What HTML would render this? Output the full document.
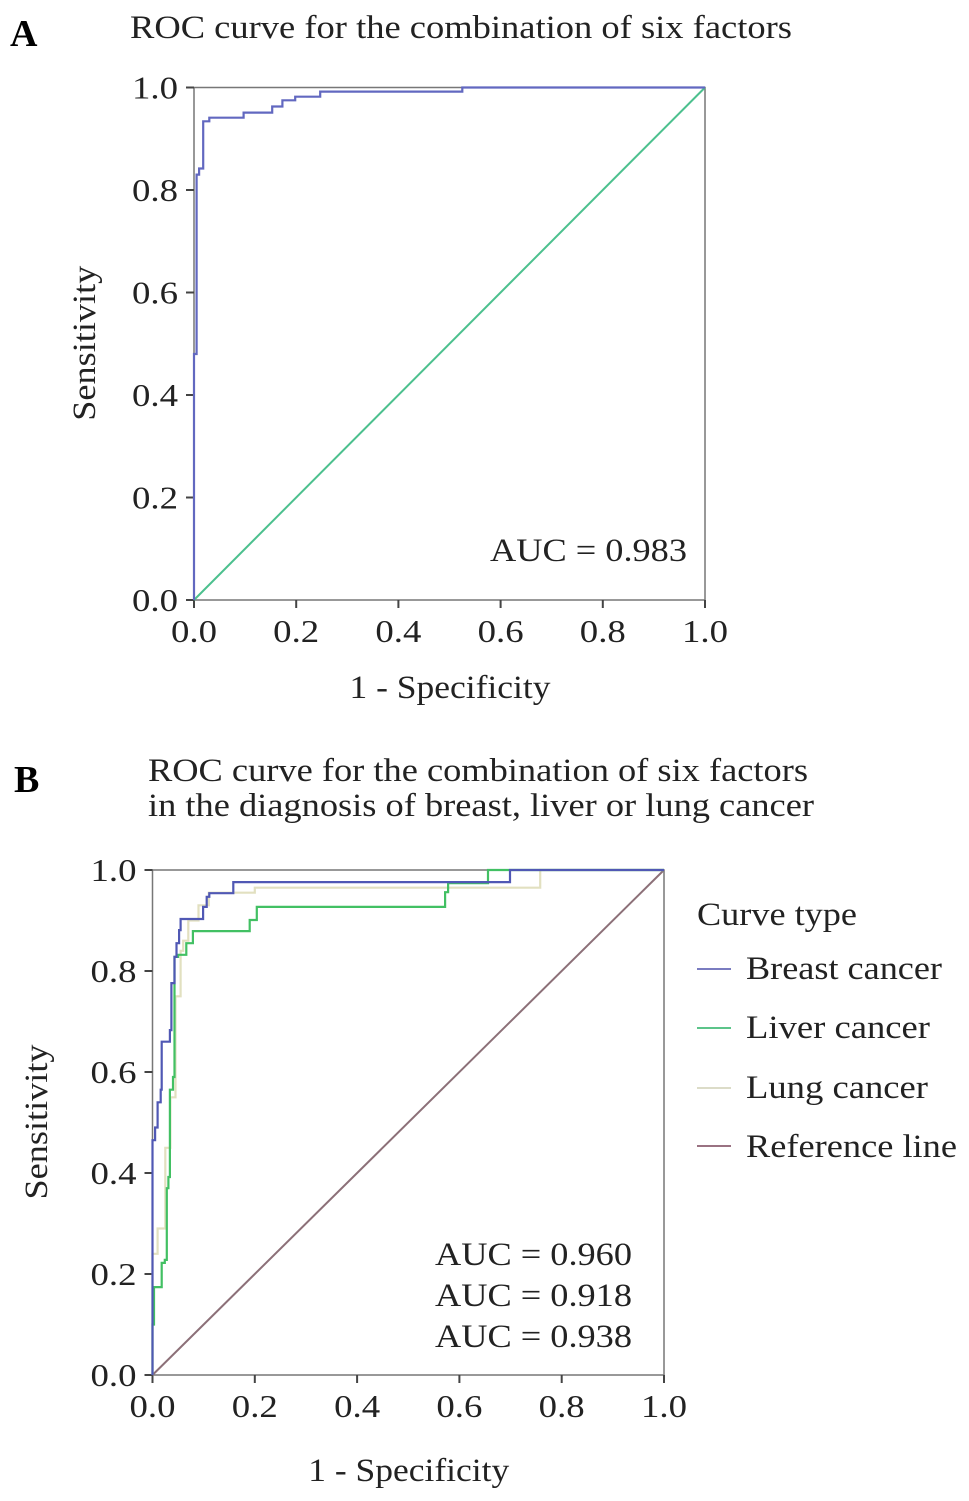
<!DOCTYPE html>
<html><head><meta charset="utf-8"><style>
html,body{margin:0;padding:0;background:#fff;}
svg{display:block;font-family:"Liberation Serif",serif;}
</style></head><body>
<svg id="root" width="969" height="1501" viewBox="0 0 969 1501" xmlns="http://www.w3.org/2000/svg">
<text x="10" y="46" font-size="38" font-weight="bold">A</text>
<text x="130" y="38" font-size="33" fill="#222" textLength="662" lengthAdjust="spacingAndGlyphs">ROC curve for the combination of six factors</text>
<g id="chartA"></g>
<text x="14" y="792" font-size="38" font-weight="bold">B</text>
<text x="148" y="781" font-size="33" fill="#222" textLength="660" lengthAdjust="spacingAndGlyphs">ROC curve for the combination of six factors</text>
<text x="148" y="816" font-size="33" fill="#222" textLength="666" lengthAdjust="spacingAndGlyphs">in the diagnosis of breast, liver or lung cancer</text>
<g id="chartB"></g>
<g>
<text x="697" y="925" font-size="33" fill="#222" textLength="160" lengthAdjust="spacingAndGlyphs">Curve type</text>
<g><line x1="697" y1="969" x2="731" y2="969" stroke="#7a7cc0" stroke-width="2"/><text x="746" y="979" font-size="33" fill="#222" textLength="196" lengthAdjust="spacingAndGlyphs">Breast cancer</text></g>
<g><line x1="697" y1="1028" x2="731" y2="1028" stroke="#5cc48a" stroke-width="2"/><text x="746" y="1038" font-size="33" fill="#222" textLength="184" lengthAdjust="spacingAndGlyphs">Liver cancer</text></g>
<g><line x1="697" y1="1088" x2="731" y2="1088" stroke="#dcdcc8" stroke-width="2"/><text x="746" y="1098" font-size="33" fill="#222" textLength="182" lengthAdjust="spacingAndGlyphs">Lung cancer</text></g>
<g><line x1="697" y1="1146" x2="731" y2="1146" stroke="#9a7282" stroke-width="2"/><text x="746" y="1157" font-size="33" fill="#222" textLength="211" lengthAdjust="spacingAndGlyphs">Reference line</text></g>
</g>
</svg>
<script>
const ticks = [0, 0.2, 0.4, 0.6, 0.8, 1.0];
const tickLabels = ["0.0", "0.2", "0.4", "0.6", "0.8", "1.0"];
const aFpr = [0, 0, 0.005, 0.005, 0.01, 0.01, 0.018, 0.018, 0.03, 0.03, 0.097, 0.097, 0.153, 0.153, 0.173, 0.173, 0.198, 0.198, 0.247, 0.247, 0.525, 0.525, 1];
const aTpr = [0, 0.48, 0.48, 0.83, 0.83, 0.842, 0.842, 0.934, 0.934, 0.941, 0.941, 0.951, 0.951, 0.963, 0.963, 0.975, 0.975, 0.982, 0.982, 0.992, 0.992, 1, 1];
const breastFpr = [0, 0, 0.005, 0.005, 0.01, 0.01, 0.016, 0.016, 0.018, 0.018, 0.034, 0.034, 0.037, 0.037, 0.043, 0.043, 0.047, 0.047, 0.052, 0.052, 0.055, 0.055, 0.099, 0.099, 0.106, 0.106, 0.111, 0.111, 0.158, 0.158, 0.699, 0.699, 1];
const breastTpr = [0, 0.465, 0.465, 0.49, 0.49, 0.54, 0.54, 0.565, 0.565, 0.66, 0.66, 0.683, 0.683, 0.776, 0.776, 0.828, 0.828, 0.855, 0.855, 0.881, 0.881, 0.903, 0.903, 0.927, 0.927, 0.947, 0.947, 0.954, 0.954, 0.976, 0.976, 1, 1];
const liverFpr = [0, 0, 0.003, 0.003, 0.018, 0.018, 0.024, 0.024, 0.028, 0.028, 0.031, 0.031, 0.034, 0.034, 0.04, 0.04, 0.043, 0.043, 0.05, 0.05, 0.066, 0.066, 0.079, 0.079, 0.19, 0.19, 0.204, 0.204, 0.572, 0.572, 0.578, 0.578, 0.656, 0.656, 1];
const liverTpr = [0, 0.1, 0.1, 0.174, 0.174, 0.222, 0.222, 0.228, 0.228, 0.37, 0.37, 0.392, 0.392, 0.565, 0.565, 0.59, 0.59, 0.828, 0.828, 0.832, 0.832, 0.855, 0.855, 0.879, 0.879, 0.901, 0.901, 0.927, 0.927, 0.956, 0.956, 0.974, 0.974, 1, 1];
const lungFpr = [0, 0, 0.01, 0.01, 0.025, 0.025, 0.035, 0.035, 0.045, 0.045, 0.055, 0.055, 0.06, 0.06, 0.07, 0.07, 0.09, 0.09, 0.11, 0.11, 0.2, 0.2, 0.758, 0.758, 1];
const lungTpr = [0, 0.24, 0.24, 0.29, 0.29, 0.45, 0.45, 0.55, 0.55, 0.75, 0.75, 0.84, 0.84, 0.86, 0.86, 0.9, 0.9, 0.93, 0.93, 0.955, 0.955, 0.965, 0.965, 1, 1];
const aucA = ["AUC = 0.983"];
const aucB = ["AUC = 0.960", "AUC = 0.918", "AUC = 0.938"];

const NS = "http://www.w3.org/2000/svg";
function mk(parent, tag, attrs, txt) {
  const e = document.createElementNS(NS, tag);
  for (const k in attrs) e.setAttribute(k, attrs[k]);
  if (txt !== undefined) e.textContent = txt;
  parent.appendChild(e);
  return e;
}
function drawChart(g, L, T, R, B, series, diagColor, opt) {
  const sx = v => L + v * (R - L);
  const sy = v => B - v * (B - T);
  const fr = mk(g, "rect", {x: L, y: T, width: R - L, height: B - T, fill: "none", stroke: "#777", "stroke-width": 1.5});
  
  
  ticks.forEach((t, i) => {
    const yt = mk(g, "line", {x1: L - 8, x2: L, y1: sy(t), y2: sy(t), stroke: "#444", "stroke-width": 2});
    
    
    const xt = mk(g, "line", {x1: sx(t), x2: sx(t), y1: B, y2: B + 8, stroke: "#444", "stroke-width": 2});
    
    
    const yl = mk(g, "text", {x: L - 62, y: sy(t) + 11, "font-size": 32, fill: "#222", textLength: 46, lengthAdjust: "spacingAndGlyphs"}, tickLabels[i]);
    
    
    const xl = mk(g, "text", {x: sx(t) - 23, y: B + 42, "font-size": 32, fill: "#222", textLength: 46, lengthAdjust: "spacingAndGlyphs"}, tickLabels[i]);
    
    
  });
  const d = mk(g, "line", {x1: sx(0), y1: sy(0), x2: sx(1), y2: sy(1), stroke: diagColor, "stroke-width": 2});
  
  
  series.forEach(s => {
    const pts = s.x.map((v, i) => sx(v).toFixed(1) + "," + sy(s.y[i]).toFixed(1)).join(" ");
    const p = mk(g, "polyline", {points: pts, fill: "none", stroke: s.color, "stroke-width": 2.2});
    
    
  });
  const xt = mk(g, "text", {x: (L + R) / 2 - 100, y: opt.xTitleY, "font-size": 33, fill: "#222", textLength: 201, lengthAdjust: "spacingAndGlyphs"}, "1 - Specificity");
  
  
  const yt = mk(g, "text", {x: -77, y: 0, "font-size": 33, fill: "#222", textLength: 155, lengthAdjust: "spacingAndGlyphs", transform: "translate(" + opt.yTitleX + "," + (T + B) / 2 + ") rotate(-90)"}, "Sensitivity");
  
  
  opt.auc.forEach((a, i) => {
    const t = mk(g, "text", {x: opt.aucX, y: opt.aucY + i * 41, "font-size": 33, fill: "#222", textLength: 197, lengthAdjust: "spacingAndGlyphs"}, a);
    
    
  });
}
drawChart(document.getElementById("chartA"), 194, 87.5, 705, 600,
  [{x: aFpr, y: aTpr, color: "#6268c0", name: "roc-curve-combined"}], "#4cc08e",
  {xTitleY: 698, yTitleX: 95, auc: aucA, aucX: 490, aucY: 561});
drawChart(document.getElementById("chartB"), 152.5, 870, 664, 1375,
  [{x: lungFpr, y: lungTpr, color: "#e2e0c0", name: "roc-curve-lung"},
   {x: liverFpr, y: liverTpr, color: "#42c063", name: "roc-curve-liver"},
   {x: breastFpr, y: breastTpr, color: "#5058b4", name: "roc-curve-breast"}], "#8c7078",
  {xTitleY: 1481, yTitleX: 47, auc: aucB, aucX: 435, aucY: 1265});
</script>
</body></html>
